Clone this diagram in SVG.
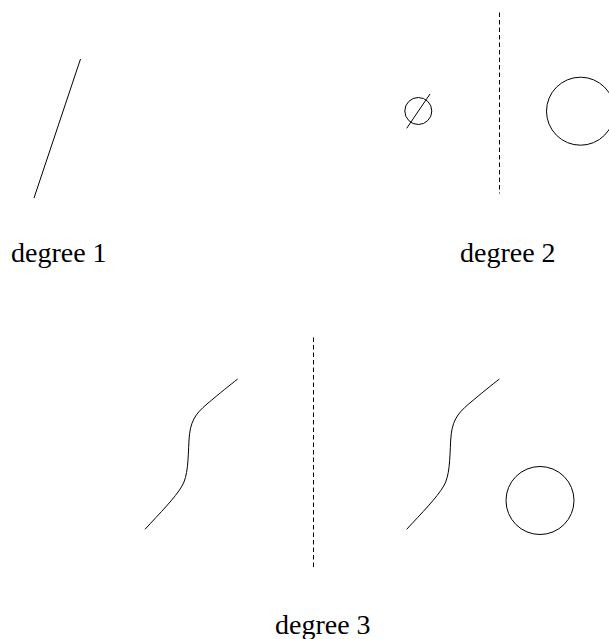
<svg xmlns="http://www.w3.org/2000/svg" width="609" height="639" viewBox="0 0 609 639">
<style>
.s{fill:none;stroke:#000;stroke-width:1}
.d{fill:none;stroke:#000;stroke-width:1;stroke-dasharray:4.5,3}
.t{font-family:"Liberation Serif","Times New Roman",serif;font-size:28px;fill:#000}
</style>
<rect width="609" height="639" fill="#fff"/>
<g id="degree1">
<line class="s" x1="80.5" y1="59" x2="34" y2="198"/>
<text class="t" x="11" y="262">degree 1</text>
</g>
<g id="degree2">
<circle class="s" cx="418.3" cy="111" r="13.5"/>
<line class="s" x1="406.7" y1="128.3" x2="430" y2="94"/>
<line class="d" x1="499.5" y1="12.5" x2="499.5" y2="193.5"/>
<circle class="s" cx="580.5" cy="111.2" r="34"/>
<text class="t" x="460" y="262">degree 2</text>
</g>
<g id="degree3">
<path class="s" d="M145,529.3 C160,513 175,498 182,486 C188,476 188,460 189,440 C190,422 195,414 207,404 C220,393 230,385 237.7,379"/>
<line class="d" x1="313.5" y1="337.5" x2="313.5" y2="569.5"/>
<path class="s" transform="translate(261.7,0)" d="M145,529.3 C160,513 175,498 182,486 C188,476 188,460 189,440 C190,422 195,414 207,404 C220,393 230,385 237.7,379"/>
<circle class="s" cx="540" cy="500.5" r="34"/>
<text class="t" x="275" y="634">degree 3</text>
</g>
</svg>
